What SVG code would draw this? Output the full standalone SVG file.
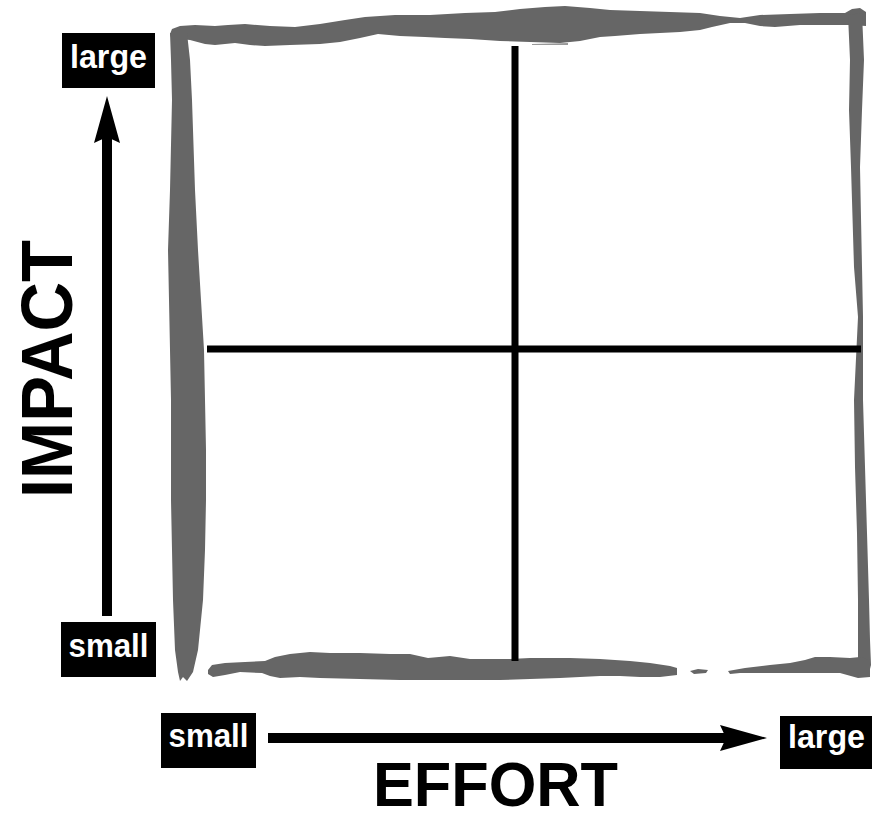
<svg xmlns="http://www.w3.org/2000/svg" width="872" height="821" viewBox="0 0 872 821">
<style>
.frame{fill:#666666}
.grid{stroke:#000;stroke-width:7;fill:none}
.axis{stroke:#000;stroke-width:10;fill:none}
.box{fill:#000}
.lbl{font-family:"Liberation Sans",Arial,sans-serif;font-weight:bold;font-size:33px;fill:#fff;text-anchor:middle}
.title{font-family:"Liberation Sans",Arial,sans-serif;font-weight:bold;fill:#000;text-anchor:middle}
</style>
<defs>
<marker id="head" markerUnits="userSpaceOnUse" markerWidth="48" markerHeight="27" refX="10" refY="13" orient="auto" viewBox="0 0 48 27">
<path d="M0,0 L47,13 L0,26 L6,13 Z" fill="#000"/>
</marker>
</defs>
<rect width="872" height="821" fill="#fff"/>
<g id="frame">
<path class="frame" d="M170,34 L172,29 L180,26 L195,25 L215,26 L228,25 L245,24 L270,26 L295,27 L320,24 L345,20 L365,17 L395,15 L430,15 L465,13 L495,12 L520,9 L545,7 L565,6 L590,8 L610,10 L640,11 L670,12 L700,13 L720,16 L740,18 L760,15 L790,14 L820,13 L845,13 L852,9 L860,8 L866,12 L866,26 L850,25 L830,25 L800,25 L775,27 L760,26 L745,23 L730,23 L712,27 L700,30 L680,32 L660,33 L640,34 L615,36 L600,37 L580,41 L560,43 L530,42 L500,41 L470,39 L445,38 L425,37 L400,36 L378,34 L360,38 L340,42 L320,44 L290,45 L265,46 L250,45 L235,43 L215,45 L205,44 L190,40 L180,39 L172,41 Z"/>
<path class="frame" d="M170,33 L187,33 L190,60 L192,100 L195,190 L198,250 L201,300 L204,350 L205,400 L206,450 L206,500 L205,550 L203,600 L198,650 L193,672 L187,681 L183,677 L180,681 L178,672 L175,650 L173,600 L172,550 L171,500 L171,450 L171,400 L170,350 L169,300 L168,250 L170,190 L172,100 L171,60 Z"/>
<path class="frame" d="M848,15 L862,13 L864,60 L862,110 L860,167 L862,267 L863,317 L863,400 L865,467 L867,533 L869,600 L870,640 L871,665 L868,677 L858,676 L858,650 L858,600 L857,533 L855,467 L854,400 L858,317 L854,267 L851,167 L849,110 L850,60 Z"/>
<path class="frame" d="M208,670 L212,665 L225,663 L245,662 L265,661 L275,657 L290,654 L310,652 L330,653 L360,653 L390,654 L410,654 L428,658 L450,656 L470,659 L510,659 L530,658 L570,658 L600,659 L630,661 L650,663 L670,666 L677,668 L677,675 L660,677 L640,677 L620,676 L600,676 L580,677 L560,678 L530,679 L500,680 L470,680 L440,680 L400,680 L360,679 L320,678 L300,677 L280,678 L270,676 L262,673 L240,672 L225,675 L213,677 L208,674 Z"/>
<path class="frame" d="M690,671 L698,669 L708,670 L706,673 L694,674 Z"/>
<path class="frame" d="M728,671 L745,668 L770,665 L790,663 L805,660 L815,657 L830,657 L850,658 L860,657 L870,660 L870,677 L858,678 L840,673 L820,673 L800,673 L780,673 L760,673 L740,673 L730,674 Z"/>
<path d="M532,44 L568,43 L568,45 L532,45 Z" fill="#999"/>
</g>
<g id="quadrants">
<line class="grid" x1="515" y1="46" x2="515" y2="661"/>
<line class="grid" x1="207" y1="349" x2="861" y2="349"/>
</g>
<g id="connectors">
<line class="axis" x1="107" y1="616" x2="107" y2="133" marker-end="url(#head)"/>
<line class="axis" x1="268" y1="738" x2="730" y2="738" marker-end="url(#head)"/>
</g>
<g id="impact-large">
<rect class="box" x="62" y="33" width="93" height="55"/>
<text class="lbl" x="108.5" y="68" textLength="77" lengthAdjust="spacingAndGlyphs">large</text>
</g>
<g id="impact-small">
<rect class="box" x="61" y="622" width="95" height="55"/>
<text class="lbl" x="108.5" y="657" textLength="80" lengthAdjust="spacingAndGlyphs">small</text>
</g>
<g id="effort-small">
<rect class="box" x="161" y="713" width="95" height="55"/>
<text class="lbl" x="208.5" y="747" textLength="80" lengthAdjust="spacingAndGlyphs">small</text>
</g>
<g id="effort-large">
<rect class="box" x="780" y="716" width="92" height="53"/>
<text class="lbl" x="826.5" y="748" textLength="77" lengthAdjust="spacingAndGlyphs">large</text>
</g>
<g id="impact-title">
<text class="title" transform="translate(72,369) rotate(-90)" font-size="72" textLength="258" lengthAdjust="spacingAndGlyphs">IMPACT</text>
</g>
<g id="effort-title">
<text class="title" x="495.5" y="806" font-size="63" textLength="245" lengthAdjust="spacingAndGlyphs">EFFORT</text>
</g>
</svg>
